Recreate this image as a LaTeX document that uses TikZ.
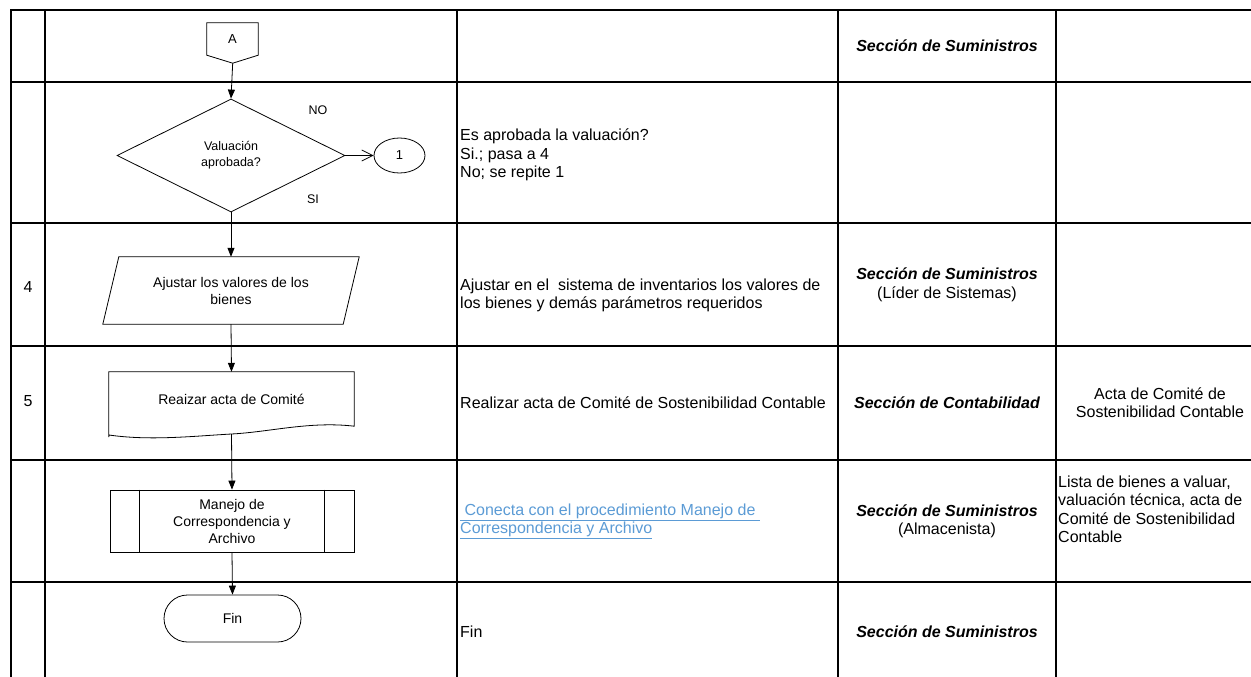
\documentclass[tikz,border=0pt]{standalone}
\usepackage{fontspec}
\setmainfont{Liberation Sans}
\usetikzlibrary{arrows.meta,shapes.geometric,shapes.misc}
\definecolor{linkblue}{RGB}{91,155,213}

\tikzset{
    grid/.style={line width=2.2pt},
    shp/.style={draw, line width=0.8pt, inner sep=0pt, align=center, font=\fontsize{14}{17}\selectfont},
    arr/.style={line width=0.8pt, -{Triangle[width=7pt,length=9pt]}},
    arrO/.style={line width=0.8pt, -{Straight Barb[width=11pt,length=11pt]}},
    cell/.style={inner sep=0pt, font=\fontsize{16}{18.5}\selectfont},
    small/.style={inner sep=0pt, font=\fontsize{12.5}{16}\selectfont}
}

\begin{document}
\begin{tikzpicture}[x=1pt,y=-1pt]
    \useasboundingbox (0,0) rectangle (1251,677);

    % table
    \draw[grid](11,677)--(11,10)--(1251,10);
    \draw[grid](45,10)--(45,677);
    \draw[grid](457,10)--(457,677);
    \draw[grid](838,10)--(838,677);
    \draw[grid](1056,10)--(1056,677);
    \draw[grid](11,82)--(1251,82);
    \draw[grid](11,223)--(1251,223);
    \draw[grid](11,346)--(1251,346);
    \draw[grid](11,460)--(1251,460);
    \draw[grid](11,582)--(1251,582);

    % flow
    \node[small, minimum width=51pt, minimum height=32pt, font=\fontsize{13}{16}\selectfont] (conA) at (232.5,39) {A};
    \draw[line width=0.8pt](conA.north west)--(conA.north east)--(conA.south east)--++(-25.5,8) coordinate (conAtip)--(conA.south west)--cycle;

    \node[shp, diamond, minimum width=228pt, minimum height=113pt, font=\fontsize{12.5}{16}\selectfont] (dec) at (231,155.5) {Valuación\\aprobada?};
    \node[shp, ellipse, minimum width=51pt, minimum height=35pt, font=\fontsize{13}{16}\selectfont] (c1) at (399.5,155.5) {1};
    \node[small] (no) at (318,110) {NO};
    \node[small] (si) at (313,199) {SI};

    \node[inner sep=0pt, minimum width=240pt, minimum height=67pt, align=center, font=\fontsize{14}{17}\selectfont] (ajus) at (231,290.5) {Ajustar los valores de los\\bienes};
    \draw[line width=0.8pt]([xshift=8pt]ajus.north west)--([xshift=8pt]ajus.north east)--([xshift=-8pt]ajus.south east)--([xshift=-8pt]ajus.south west)--cycle;

    \node[inner sep=0pt, minimum width=245pt, minimum height=54pt, font=\fontsize{14}{17}\selectfont] (acta) at (231.5,399) {Reaizar acta de Comité};
    \draw[line width=0.8pt](acta.south west)++(0,11)--(acta.north west)--(acta.north east)--(acta.south east)
        .. controls (310,421) and (270,432) .. (231.5,434) coordinate (actaW)
        .. controls (195,436) and (150,441) .. (109,435)--cycle;

    \node[shp, minimum width=244pt, minimum height=62pt] (mce) at (232,521) {Manejo de\\Correspondencia y\\Archivo};
    \draw[line width=0.8pt]([xshift=30pt]mce.north west)--([xshift=30pt]mce.south west);
    \draw[line width=0.8pt]([xshift=-30pt]mce.north east)--([xshift=-30pt]mce.south east);

    \node[shp, rounded rectangle, minimum width=137pt, minimum height=47pt] (fin) at (232.5,618.5) {Fin};

    \draw[arr](conAtip)--(dec.north);
    \draw[arrO](dec.east)--(c1.west);
    \draw[arr](dec.south)--(ajus.north);
    \draw[arr](ajus.south)--(acta.north);
    \draw[arr](actaW)--(mce.north);
    \draw[arr](mce.south)--(fin.north);

    % numbers
    \node[cell] (n4) at (28,287) {4};
    \node[cell] (n5) at (28,401) {5};

    % description
    \node[cell, anchor=west, align=left] (d2) at (460,155) {Es aprobada la valuación?\\Si.; pasa a 4\\No; se repite 1};
    \node[cell, anchor=west, align=left] (d3) at (460,295.5) {Ajustar en el\ \ sistema de inventarios los valores de\\los bienes y demás parámetros requeridos};
    \node[cell, anchor=west] (d4) at (460,403) {Realizar acta de Comité de Sostenibilidad Contable};
    \node[cell, anchor=west, align=left, text=linkblue] (d5) at (460,521.5) {\underline{\ Conecta con el procedimiento Manejo de\ }\\\underline{Correspondencia y Archivo}};
    \node[cell, anchor=west] (d6) at (460,632) {Fin};

    % responsible
    \node[cell] (r1) at (947,46) {\bfseries\itshape Sección de Suministros};
    \node[cell, align=center] (r3) at (947,285) {{\bfseries\itshape Sección de Suministros}\\(Líder de Sistemas)};
    \node[cell] (r4) at (947,403) {\bfseries\itshape Sección de Contabilidad};
    \node[cell, align=center] (r5) at (947,521.5) {{\bfseries\itshape Sección de Suministros}\\(Almacenista)};
    \node[cell] (r6) at (947,632) {\bfseries\itshape Sección de Suministros};

    % records
    \node[cell, align=center] (o4) at (1160,402.5) {Acta de Comité de\\Sostenibilidad Contable};
    \node[cell, anchor=west, align=left] (o5) at (1058,509.5) {Lista de bienes a valuar,\\valuación técnica, acta de\\Comité de Sostenibilidad\\Contable};
\end{tikzpicture}
\end{document}
